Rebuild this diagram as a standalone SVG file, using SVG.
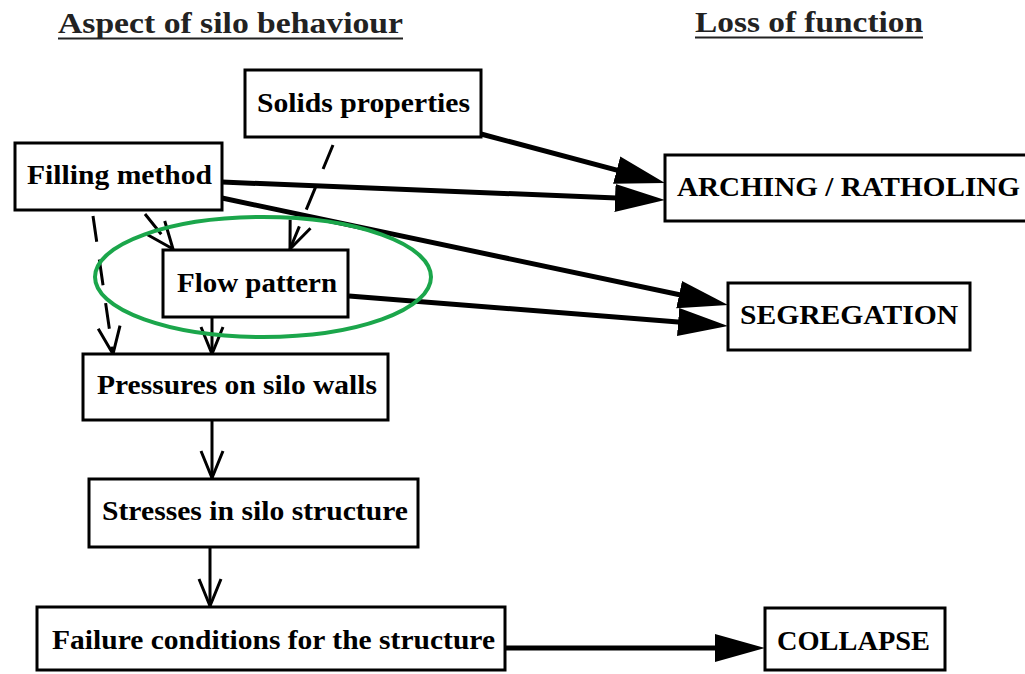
<svg xmlns="http://www.w3.org/2000/svg" width="1025" height="674" viewBox="0 0 1025 674">
<style>
.box{fill:#fff;stroke:#000;stroke-width:3}
.t{font-family:"Liberation Serif","Times New Roman",serif;font-weight:bold;font-size:27px;fill:#000}
.h{font-family:"Liberation Serif","Times New Roman",serif;font-weight:bold;font-size:29px;fill:#222}
.thick{stroke:#000;stroke-width:5;fill:none;marker-end:url(#fill)}
.dash{stroke:#000;stroke-width:3;fill:none;stroke-dasharray:26 18;marker-end:url(#open)}
.sol{stroke:#000;stroke-width:3;fill:none;marker-end:url(#open)}
</style>
<defs>
<marker id="fill" markerUnits="userSpaceOnUse" viewBox="0 -15 50 30" markerWidth="50" markerHeight="30" refX="38" refY="0" orient="auto">
<path d="M0,-14 L50,0 L0,14 Z" fill="#000"/>
</marker>
<marker id="open" markerUnits="userSpaceOnUse" viewBox="-3 -14 32 28" markerWidth="32" markerHeight="28" refX="27" refY="0" orient="auto">
<path d="M0,-11 L27,0 L0,11" fill="none" stroke="#000" stroke-width="3" stroke-linejoin="round"/>
</marker>
</defs>
<rect width="1025" height="674" fill="#fff"/>
<g id="headings">
<text class="h" x="58" y="33" textLength="345" lengthAdjust="spacingAndGlyphs">Aspect of silo behaviour</text>
<line x1="58" y1="38.5" x2="403" y2="38.5" stroke="#222" stroke-width="2"/>
<text class="h" x="695" y="32" textLength="228" lengthAdjust="spacingAndGlyphs">Loss of function</text>
<line x1="695" y1="37.5" x2="923" y2="37.5" stroke="#222" stroke-width="2"/>
</g>
<g id="connectors">
<line class="thick" x1="481" y1="134" x2="653.4" y2="179.9"/>
<line class="thick" x1="222" y1="182" x2="653" y2="199.5"/>
<line class="thick" x1="222" y1="198" x2="716.3" y2="302.5"/>
<line class="thick" x1="349" y1="296" x2="716" y2="325"/>
<line class="thick" x1="505" y1="648" x2="753" y2="648"/>
<line class="dash" x1="333" y1="145" x2="290" y2="249"/>
<line class="dash" x1="145" y1="214" x2="173" y2="249"/>
<line class="dash" x1="93" y1="216" x2="113" y2="354"/>
<line class="sol" x1="212" y1="318" x2="212" y2="354"/>
<line class="sol" x1="212" y1="421" x2="212" y2="478"/>
<line class="sol" x1="210" y1="548" x2="210" y2="606"/>
</g>
<g id="solids">
<rect class="box" x="245" y="70" width="236" height="67"/>
<text class="t" x="257" y="112" textLength="213" lengthAdjust="spacingAndGlyphs">Solids properties</text>
</g>
<g id="filling">
<rect class="box" x="15" y="143" width="207" height="67"/>
<text class="t" x="27" y="184" textLength="185" lengthAdjust="spacingAndGlyphs">Filling method</text>
</g>
<g id="arching">
<rect class="box" x="665" y="155" width="380" height="66"/>
<text class="t" x="677" y="196" textLength="343" lengthAdjust="spacingAndGlyphs">ARCHING / RATHOLING</text>
</g>
<g id="segregation">
<rect class="box" x="728" y="283" width="242" height="67"/>
<text class="t" x="740" y="324" textLength="218" lengthAdjust="spacingAndGlyphs">SEGREGATION</text>
</g>
<g id="flow">
<rect class="box" x="163" y="250" width="185" height="67"/>
<text class="t" x="177" y="292" textLength="160" lengthAdjust="spacingAndGlyphs">Flow pattern</text>
</g>
<g id="pressures">
<rect class="box" x="83" y="354" width="305" height="66"/>
<text class="t" x="97" y="394" textLength="280" lengthAdjust="spacingAndGlyphs">Pressures on silo walls</text>
</g>
<g id="stresses">
<rect class="box" x="89" y="479" width="329" height="68"/>
<text class="t" x="102" y="520" textLength="306" lengthAdjust="spacingAndGlyphs">Stresses in silo structure</text>
</g>
<g id="failure">
<rect class="box" x="37" y="607" width="468" height="63"/>
<text class="t" x="52" y="649" textLength="443" lengthAdjust="spacingAndGlyphs">Failure conditions for the structure</text>
</g>
<g id="collapse">
<rect class="box" x="765" y="608" width="180" height="62"/>
<text class="t" x="777" y="650" textLength="153" lengthAdjust="spacingAndGlyphs">COLLAPSE</text>
</g>
<g id="highlight">
<ellipse cx="263" cy="277" rx="168" ry="60" fill="none" stroke="#1ba64b" stroke-width="4"/>
</g>
</svg>
